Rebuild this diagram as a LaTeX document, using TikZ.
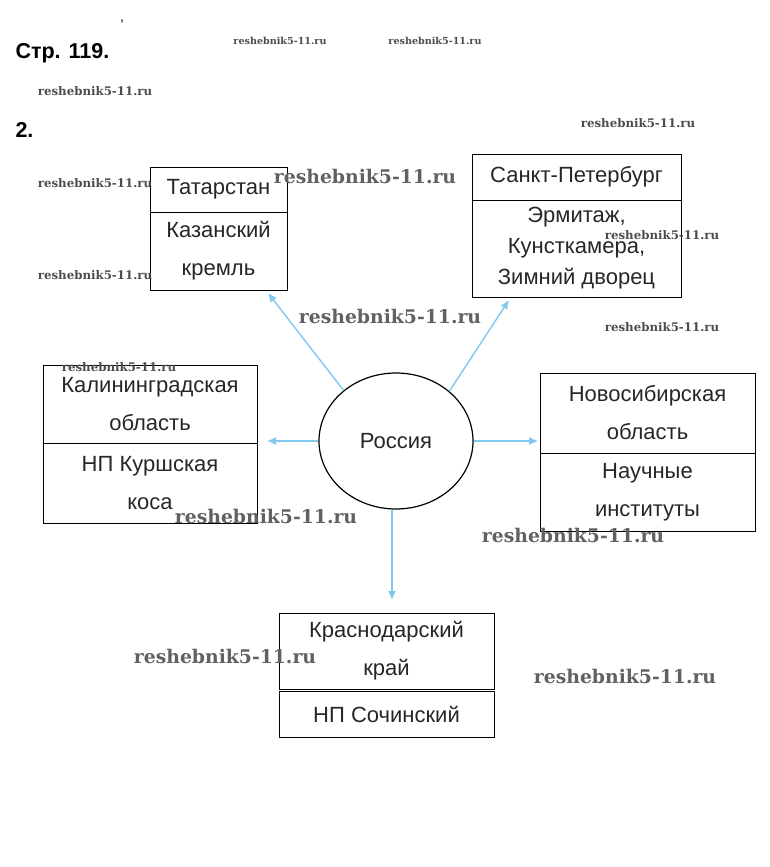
\documentclass[tikz,border=0pt]{standalone}
\usepackage{fontspec}
\setmainfont{Liberation Sans}
\newfontfamily\wmfont{DejaVu Serif}
\usetikzlibrary{arrows.meta,positioning,shapes.geometric}
\definecolor{linkblue}{RGB}{128,200,238}
\colorlet{wmgray}{black!62}
\tikzstyle{cell}=[draw=black,line width=0.8pt,rectangle,inner sep=0,outer sep=0,align=center,text=black!85,font=\fontsize{22}{38}\selectfont]
\tikzstyle{link}=[draw=linkblue,line width=1.4pt,-{Latex[length=9pt,width=8pt]}]
\tikzstyle{wmbig}=[text=wmgray,font=\wmfont\bfseries\fontsize{18.8}{19}\selectfont]
\tikzstyle{wmmid}=[text=black!70,font=\wmfont\bfseries\fontsize{11.8}{12}\selectfont]
\tikzstyle{wmsmall}=[text=black!70,font=\wmfont\bfseries\fontsize{9.6}{10}\selectfont]

\begin{document}
\begin{tikzpicture}[x=1pt,y=-1pt]
\useasboundingbox (0,0) rectangle (770,867);

\node[anchor=west,font=\bfseries\fontsize{21.5}{21.5}\selectfont] (page) at (12,53) {Стр. 119.};
\node[anchor=west,font=\bfseries\fontsize{21.5}{21.5}\selectfont] (task) at (12,130) {2.};
\node[font=\fontsize{14}{14}\selectfont] (tick) at (122,22) {,};

% regions
\node[cell,minimum width=137,minimum height=45,anchor=north west] (tat) at (150,167) {Татарстан};
\node[cell,minimum width=137,minimum height=78,below=0pt of tat] (tatsub) {Казанский\\кремль};

\node[cell,minimum width=209,minimum height=46,anchor=north west] (spb) at (472,154) {Санкт-Петербург};
\node[cell,minimum width=209,minimum height=97,below=0pt of spb,font=\fontsize{22}{31}\selectfont] (spbsub) {Эрмитаж,\\Кунсткамера,\\Зимний дворец};

\node[cell,minimum width=214,minimum height=78,anchor=north west] (kal) at (43,365) {Калининградская\\область};
\node[cell,minimum width=214,minimum height=80,below=0pt of kal] (kalsub) {НП Куршская\\коса};

\node[cell,minimum width=215,minimum height=80,anchor=north west] (nsk) at (540,373) {Новосибирская\\область};
\node[cell,minimum width=215,minimum height=78,below=0pt of nsk] (nsksub) {Научные\\институты};

\node[cell,minimum width=215,minimum height=76,anchor=north west] (kra) at (279,613) {Краснодарский\\край};
\node[cell,minimum width=215,minimum height=46,below=2pt of kra] (krasub) {НП Сочинский};

\node[ellipse,draw,line width=1.2pt,minimum width=154,minimum height=136,inner sep=0,text=black!85,font=\fontsize{22}{22}\selectfont] (rus) at (396,441) {Россия};

\draw[link] (rus.136) -- ([xshift=-19pt,yshift=-3pt]tatsub.south east);
\draw[link] (rus.43) -- ([xshift=37pt,yshift=-3pt]spbsub.south west);
\draw[link,shorten >=10pt] (rus.west) -- (rus.west -| kal.east);
\draw[link,shorten >=2pt] (rus.east) -- (rus.east -| nsk.west);
\draw[link,shorten >=13pt] ([xshift=-4pt]rus.south) -- ([xshift=-4pt]rus.south |- kra.north);

% watermarks
\foreach \x/\y [count=\i] in {280/41,435/41}
  \node[wmsmall] (wms\i) at (\x,\y) {reshebnik5-11.ru};
\foreach \x/\y [count=\i] in {95/91,638/123,95/183,662/235,95/275,662/327,119/367}
  \node[wmmid] (wmm\i) at (\x,\y) {reshebnik5-11.ru};
\foreach \x/\y [count=\i] in {365/176,390/316,266/516,573/535,225/656,625/676}
  \node[wmbig] (wmb\i) at (\x,\y) {reshebnik5-11.ru};
\end{tikzpicture}
\end{document}
